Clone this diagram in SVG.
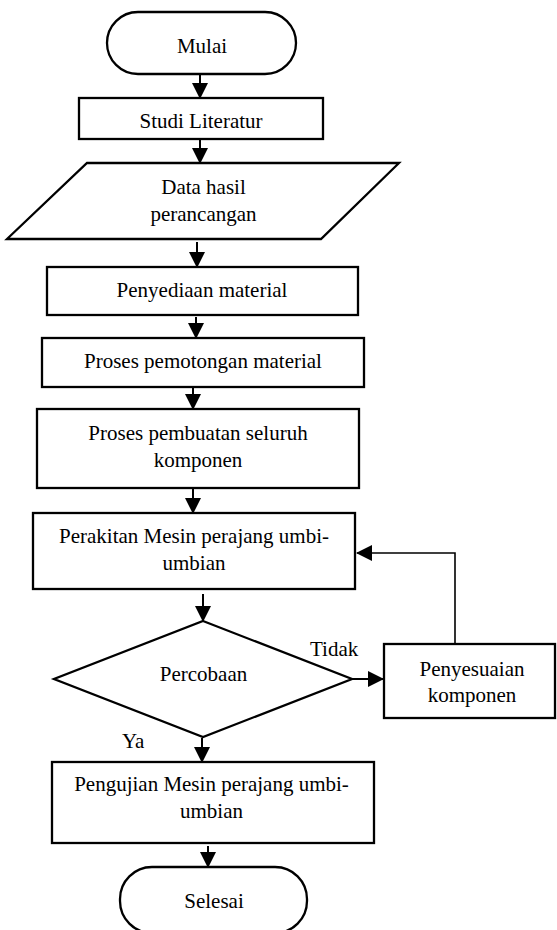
<svg xmlns="http://www.w3.org/2000/svg" width="557" height="930" viewBox="0 0 557 930">
<style>
.s{fill:#fff;stroke:#000;stroke-width:2.3}
.t{font-family:"Liberation Serif","Times New Roman",serif;font-size:21px;fill:#000;text-anchor:middle}
.c{stroke:#000;stroke-width:2;fill:none}
</style>
<defs>
<marker id="ah" markerUnits="userSpaceOnUse" markerWidth="16" markerHeight="16" viewBox="0 0 16 16" refX="15" refY="8" orient="auto">
<path d="M0,0 L16,8 L0,16 Z" fill="#000"/>
</marker>
</defs>
<rect width="557" height="930" fill="#fff"/>
<g id="connectors">
<line class="c" x1="200" y1="74" x2="200" y2="98" marker-end="url(#ah)"/>
<line class="c" x1="200" y1="139" x2="200" y2="163" marker-end="url(#ah)"/>
<line class="c" x1="197" y1="242" x2="197" y2="267" marker-end="url(#ah)"/>
<line class="c" x1="196" y1="317" x2="196" y2="338" marker-end="url(#ah)"/>
<line class="c" x1="193" y1="388" x2="193" y2="409" marker-end="url(#ah)"/>
<line class="c" x1="193" y1="489" x2="193" y2="513" marker-end="url(#ah)"/>
<line class="c" x1="203" y1="594" x2="203" y2="621" marker-end="url(#ah)"/>
<line class="c" x1="202" y1="738" x2="202" y2="762" marker-end="url(#ah)"/>
<line class="c" x1="208" y1="846" x2="208" y2="867" marker-end="url(#ah)"/>
<line class="c" x1="351" y1="679" x2="383" y2="679" marker-end="url(#ah)"/>
<polyline class="c" style="stroke-width:1.6" points="455,644 455,553 357,553" marker-end="url(#ah)"/>
</g>
<g id="mulai">
<rect class="s" x="107" y="12" width="189" height="62" rx="31" ry="31"/>
<text class="t" x="202" y="53">Mulai</text>
</g>
<g id="studi">
<rect class="s" x="79" y="98" width="244" height="41"/>
<text class="t" x="201" y="128">Studi Literatur</text>
</g>
<g id="data">
<polygon class="s" points="87,163 399,163 321,239 7,239"/>
<text class="t" x="203.5" y="194">Data hasil</text>
<text class="t" x="203.5" y="221">perancangan</text>
</g>
<g id="penyediaan">
<rect class="s" x="47" y="267" width="311" height="48"/>
<text class="t" x="202" y="297">Penyediaan material</text>
</g>
<g id="pemotongan">
<rect class="s" x="42" y="338" width="322" height="49"/>
<text class="t" x="203" y="368">Proses pemotongan material</text>
</g>
<g id="pembuatan">
<rect class="s" x="37" y="409" width="322" height="79"/>
<text class="t" x="198" y="440">Proses pembuatan seluruh</text>
<text class="t" x="198" y="467">komponen</text>
</g>
<g id="perakitan">
<rect class="s" x="33" y="513" width="322" height="76"/>
<text class="t" x="194" y="543">Perakitan Mesin perajang umbi-</text>
<text class="t" x="194" y="570">umbian</text>
</g>
<g id="percobaan">
<polygon class="s" points="203,621 352,679 203,737 54,679"/>
<text class="t" x="203.5" y="681">Percobaan</text>
</g>
<g id="penyesuaian">
<rect class="s" x="384" y="644" width="171" height="74"/>
<text class="t" x="472" y="676">Penyesuaian</text>
<text class="t" x="472" y="702">komponen</text>
</g>
<g id="labels">
<text class="t" x="310" y="656" style="text-anchor:start">Tidak</text>
<text class="t" x="122" y="748" style="text-anchor:start">Ya</text>
</g>
<g id="pengujian">
<rect class="s" x="52" y="762" width="322" height="81"/>
<text class="t" x="211.5" y="791">Pengujian Mesin perajang umbi-</text>
<text class="t" x="211.5" y="818">umbian</text>
</g>
<g id="selesai">
<rect class="s" x="120" y="867" width="187" height="66" rx="32" ry="32"/>
<text class="t" x="214" y="908">Selesai</text>
</g>
</svg>
